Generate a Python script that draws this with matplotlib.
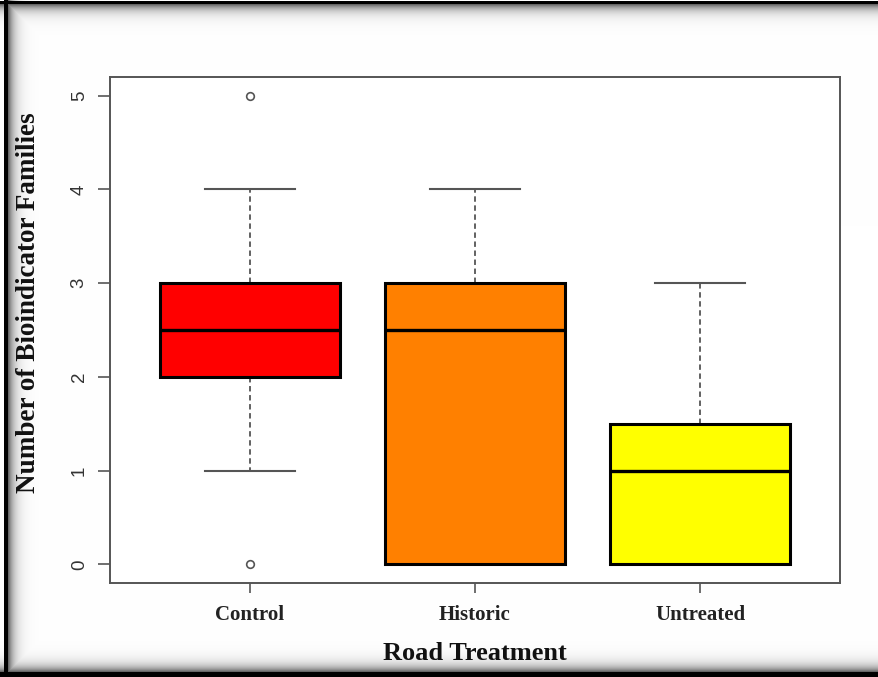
import matplotlib
matplotlib.use("Agg")
import matplotlib.pyplot as plt
import numpy as np

# box statistics per road treatment
treatments = ["Control", "Historic", "Untreated"]
medians = [2.5, 2.5, 1.0]
q1 = [2.0, 0.0, 0.0]
q3 = [3.0, 3.0, 1.5]
whisker_lo = [1.0, 0.0, 0.0]
whisker_hi = [4.0, 4.0, 3.0]
outliers = [[0.0, 5.0], [], []]
box_colors = ["#FF0000", "#FF8000", "#FFFF00"]
y_ticks = [0, 1, 2, 3, 4, 5]

W, H = 879, 677
fig = plt.figure(figsize=(W / 100, H / 100), dpi=100)

# framed border with a soft inner shadow
bg = fig.add_axes([0, 0, 1, 1], zorder=-10)
yy, xx = np.mgrid[0:H, 0:W].astype(float)


def edge_shade(d, width):
    s = 1 - 0.6 * np.exp(-np.clip(d - width, 0, None) / 6.0)
    s[d < width] = 0.0
    return s


shade = np.minimum.reduce([
    np.where(xx < 4, 1.0, edge_shade(xx - 4, 4)),
    np.where(yy < 1, 1.0, edge_shade(yy - 1, 3)),
    edge_shade((H - 1) - yy, 5),
])
bg.imshow(np.dstack([shade] * 3), aspect="auto", interpolation="bilinear")
bg.axis("off")

ax = fig.add_axes([110 / W, 1 - 583 / H, 730 / W, 506 / H])

stats = []
for i, name in enumerate(treatments):
    stats.append(dict(label=name, med=medians[i], q1=q1[i], q3=q3[i],
                      whislo=whisker_lo[i], whishi=whisker_hi[i],
                      fliers=outliers[i]))

bp = ax.bxp(stats, positions=[1, 2, 3], widths=0.8, patch_artist=True,
            showfliers=True,
            boxprops=dict(edgecolor="black", linewidth=2.2, zorder=3),
            medianprops=dict(color="black", linewidth=2.4, zorder=4),
            whiskerprops=dict(color="#555555", linewidth=1.3, linestyle=(0, (3, 2)), zorder=2),
            capprops=dict(color="#555555", linewidth=1.5, zorder=2),
            capwidths=0.4,
            flierprops=dict(marker="o", markersize=5.5, markerfacecolor="none",
                            markeredgecolor="#555555", markeredgewidth=1.2))
for patch, c in zip(bp["boxes"], box_colors):
    patch.set_facecolor(c)

ax.set_xlim(0.38, 3.62)
ax.set_ylim(-0.2, 5.2)
ax.set_yticks(y_ticks)
ax.set_yticklabels([str(t) for t in y_ticks], rotation=90, va="center",
                   family="Liberation Sans", fontsize=13.5, color="#333333")
ax.set_xticks([1, 2, 3])
ax.set_xticklabels(treatments, family="Liberation Serif", fontweight="bold",
                   fontsize=15, color="#222222")
ax.tick_params(axis="y", length=9, width=1.2, color="#555555", pad=7)
ax.tick_params(axis="x", length=7, width=1.2, color="#555555", pad=9)
for sp in ax.spines.values():
    sp.set_color("#555555")
    sp.set_linewidth(1.4)

ax.set_xlabel("Road Treatment", family="Liberation Serif", fontweight="bold",
              fontsize=19, labelpad=12, color="#111111")
ax.set_ylabel("Number of Bioindicator Families", family="Liberation Serif",
              fontweight="bold", fontsize=19.5, color="#111111")
ax.yaxis.set_label_coords(-0.095, 0.553)

fig.savefig("out.png", dpi=100)
